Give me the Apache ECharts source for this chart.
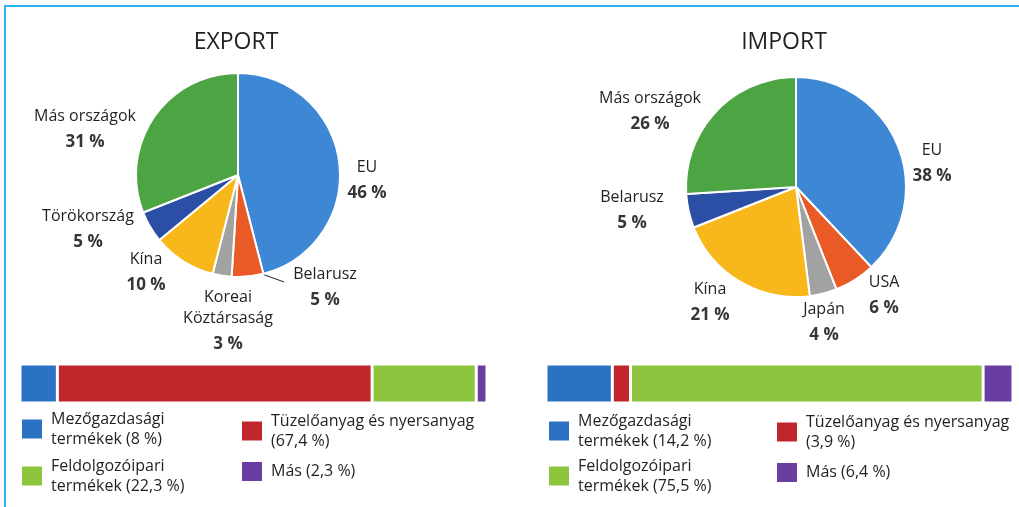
<!DOCTYPE html>
<html>
<head>
<meta charset="utf-8">
<script src="https://cdn.jsdelivr.net/npm/echarts@6/dist/echarts.min.js"></script>
<style>
  html, body { margin: 0; padding: 0; background: #ffffff; }
  #frame { position: absolute; left: 4px; top: 5px; width: 1015px; height: 502px;
           border-top: 2px solid #27b4ef; border-left: 2px solid #27b4ef; box-sizing: border-box; }
  #chart { position: absolute; left: 0; top: 0; width: 1019px; height: 507px; }
</style>
</head>
<body>
<div id="frame"></div>
<div id="chart"></div>
<script>
// Partner shares of trade (%)
const exportPartners = ['EU', 'Belarusz', 'Koreai\nKöztársaság', 'Kína', 'Törökország', 'Más országok'];
const exportShares = [46, 5, 3, 10, 5, 31];
const importPartners = ['EU', 'USA', 'Japán', 'Kína', 'Belarusz', 'Más országok'];
const importShares = [38, 6, 4, 21, 5, 26];

// Product structure of trade (%)
const productLabels = [
  'Mezőgazdasági\ntermékek ({v} %)',
  'Tüzelőanyag és nyersanyag\n({v} %)',
  'Feldolgozóipari\ntermékek ({v} %)',
  'Más ({v} %)'
];
const exportStructure = [8, 67.4, 22.3, 2.3];
const importStructure = [14.2, 3.9, 75.5, 6.4];

// Styling
const sliceColors = ['#3d87d4', '#e95a26', '#a2a2a2', '#f8b71b', '#2c4fa6', '#4ca443'];
const barColors = ['#2c72c4', '#c0262c', '#8cc43e', '#6a3ea0'];
const FONT = '"Open Sans", "Noto Sans", sans-serif';
const TEXT = '#231f20';

// Label anchor points (centre of each label block) for the two pies
const exportLabelPos = [[367, 183], [325, 290], [228, 323], [146, 275], [88, 232], [85, 132]];
const importLabelPos = [[932, 166], [884, 298], [824, 325], [710, 305], [632, 213], [650, 114]];

const fmt = v => String(v).replace('.', ',');

function pieData(names, values, leaderIndex) {
  return names.map((n, i) => {
    const item = { name: n, value: values[i], itemStyle: { color: sliceColors[i] } };
    if (i === leaderIndex) {
      item.labelLine = { show: true, lineStyle: { color: '#222', width: 1 } };
      item.label = { width: 66 };
    }
    return item;
  });
}

function pieLabel(p) {
  const lines = p.name.split('\n').map(s => '{n|' + s + '}');
  return lines.join('\n') + '\n{p|' + fmt(p.value) + ' %}';
}

function pieSeries(names, values, center, radius, positions, leaderIndex) {
  const total = values.reduce((a, b) => a + b, 0);
  return {
    type: 'pie',
    center: center,
    radius: radius,
    startAngle: 90,
    clockwise: true,
    silent: true,
    data: pieData(names, values, leaderIndex),
    itemStyle: { borderColor: '#ffffff', borderWidth: 2 },
    label: {
      position: 'outside',
      width: 130,
      overflow: 'none',
      formatter: pieLabel,
      rich: {
        n: { fontFamily: FONT, fontSize: 16, color: TEXT, lineHeight: 21, align: 'center' },
        p: { fontFamily: FONT, fontSize: 17, fontWeight: 'bold', color: '#363636', lineHeight: 31, align: 'center' }
      }
    },
    labelLine: { show: false },
    labelLayout: function (params) {
      const i = params.dataIndex;
      const pos = positions[i];
      const layout = { x: pos[0], y: pos[1], align: 'center', verticalAlign: 'middle' };
      if (i === leaderIndex) {
        // leader line: from just inside the slice rim to the left of the label
        let before = 0;
        for (let k = 0; k < i; k++) before += values[k];
        const mid = (before + values[i] / 2) / total * Math.PI * 2;
        const r = radius * 0.92;
        layout.labelLinePoints = [
          [center[0] + r * Math.sin(mid), center[1] - r * Math.cos(mid)],
          [pos[0] - 41, pos[1] - 8],
          [pos[0] - 41, pos[1] - 8]
        ];
      }
      return layout;
    }
  };
}

function barSeries(values, gridIdx) {
  return values.map((v, i) => ({
    type: 'bar',
    name: productLabels[i].replace('{v}', fmt(v)),
    xAxisIndex: gridIdx,
    yAxisIndex: gridIdx,
    stack: 'structure' + gridIdx,
    barWidth: '100%',
    silent: true,
    data: [v],
    itemStyle: { color: barColors[i], borderColor: '#ffffff', borderWidth: 1.5 }
  }));
}

function legendItem(name, left, top) {
  return {
    data: [name],
    left: left,
    top: top,
    padding: 0,
    selectedMode: false,
    icon: 'rect',
    itemWidth: 22,
    itemHeight: 21,
    itemGap: 0,
    textStyle: { fontFamily: FONT, fontSize: 16, color: TEXT, lineHeight: 20, padding: [0, 0, 0, 3] }
  };
}

const exportBars = barSeries(exportStructure, 0);
const importBars = barSeries(importStructure, 1);

const legendSlots = [[20, 409], [240, 411], [20, 456], [240, 460]];
const importLegendSlots = [[547, 411], [775, 412], [547, 456], [775, 461]];

const option = {
  backgroundColor: 'transparent',
  animation: false,
  title: [
    { text: 'EXPORT', left: 236, top: 31, textAlign: 'center', padding: 0,
      textStyle: { fontFamily: FONT, fontSize: 23, fontWeight: 'normal', color: TEXT } },
    { text: 'IMPORT', left: 784, top: 31, textAlign: 'center', padding: 0,
      textStyle: { fontFamily: FONT, fontSize: 23, fontWeight: 'normal', color: TEXT } }
  ],
  grid: [
    { left: 20, top: 364, width: 467, height: 39 },
    { left: 546, top: 364, width: 467, height: 39 }
  ],
  xAxis: [
    { gridIndex: 0, type: 'value', min: 0, max: 100, show: false },
    { gridIndex: 1, type: 'value', min: 0, max: 100, show: false }
  ],
  yAxis: [
    { gridIndex: 0, type: 'category', data: ['EXPORT'], show: false },
    { gridIndex: 1, type: 'category', data: ['IMPORT'], show: false }
  ],
  legend: exportBars.map((s, i) => legendItem(s.name, legendSlots[i][0], legendSlots[i][1]))
    .concat(importBars.map((s, i) => legendItem(s.name, importLegendSlots[i][0], importLegendSlots[i][1]))),
  series: [
    pieSeries(exportPartners, exportShares, [238, 175], 102, exportLabelPos, 1),
    pieSeries(importPartners, importShares, [796, 187], 110, importLabelPos, -1)
  ].concat(exportBars, importBars)
};

const chart = echarts.init(document.getElementById('chart'), null, { renderer: 'canvas' });
chart.setOption(option);
</script>
</body>
</html>
